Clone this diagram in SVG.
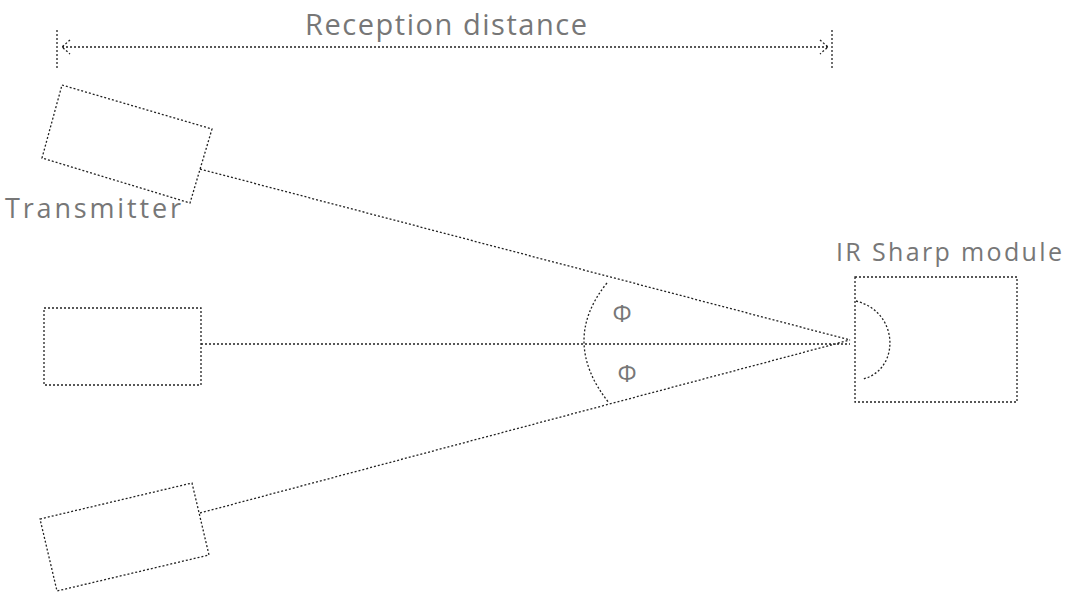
<svg xmlns="http://www.w3.org/2000/svg" width="1067" height="594" viewBox="0 0 1067 594">
<style>
.d{fill:none;stroke:#222;stroke-width:1.3;stroke-dasharray:2 2}
.t{font-family:"Open Sans","Liberation Sans",sans-serif;fill:#777}
</style>
<rect width="1067" height="594" fill="#fff"/>
<g id="dimension">
<path class="d" d="M57,30 V70 M832,30 V70 M62,47 H828 M70,40 L62,47 L70,54 M820,40 L828,47 L820,54"/>
<text class="t" x="305" y="35" font-size="29" textLength="282" lengthAdjust="spacing">Reception distance</text>
</g>
<g id="transmitter-top">
<polygon class="d" points="62,85 212,129 190,203 42,158"/>
<text class="t" x="5" y="218" font-size="27" textLength="176" lengthAdjust="spacing">Transmitter</text>
</g>
<g id="transmitter-mid">
<rect class="d" x="44" y="308" width="157" height="77"/>
</g>
<g id="transmitter-bottom">
<polygon class="d" points="40,519 192,483 209,555 57,591"/>
</g>
<g id="ir-module">
<rect class="d" x="855" y="277" width="162" height="125"/>
<path class="d" d="M856,301 C900,312 900,370 863,379"/>
<text class="t" x="836" y="261" font-size="25" textLength="226" lengthAdjust="spacing">IR Sharp module</text>
</g>
<g id="connectors">
<path class="d" d="M200,169 L850,340 M201,344 H850 M200,513 L850,340"/>
<path class="d" d="M607,283 Q560,341 609,403"/>
<text class="t" x="622" y="322" font-size="24" text-anchor="middle">Φ</text>
<text class="t" x="627" y="382" font-size="24" text-anchor="middle">Φ</text>
</g>
</svg>
